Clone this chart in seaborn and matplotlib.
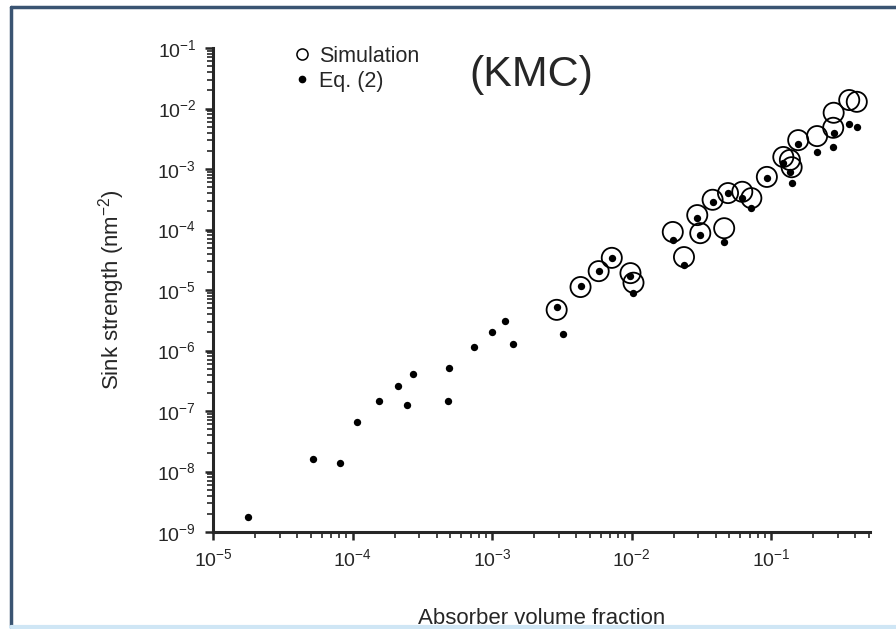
import matplotlib
matplotlib.use("Agg")
import matplotlib.pyplot as plt
import seaborn as sns
from matplotlib.lines import Line2D

# simulation (open circles)
sim_x = [2.9e-3, 4.3e-3, 5.8e-3, 7.2e-3, 9.8e-3, 1.03e-2, 1.97e-2, 2.37e-2, 2.95e-2,
         3.1e-2, 3.8e-2, 4.6e-2, 4.9e-2, 6.2e-2, 7.2e-2, 9.3e-2, 0.122, 0.136, 0.14,
         0.156, 0.213, 0.278, 0.28, 0.362, 0.41]
sim_y = [4.7e-6, 1.12e-5, 2.05e-5, 3.4e-5, 1.9e-5, 1.32e-5, 9.1e-5, 3.5e-5, 1.73e-4,
         8.7e-5, 3.1e-4, 1.05e-4, 4.0e-4, 4.2e-4, 3.3e-4, 7.4e-4, 1.58e-3, 1.41e-3, 1.07e-3,
         3.0e-3, 3.5e-3, 4.8e-3, 8.5e-3, 1.38e-2, 1.29e-2]

# Eq. (2) (filled dots)
eq_x = [1.78e-5, 5.2e-5, 8.1e-5, 1.07e-4, 1.55e-4, 2.1e-4, 2.45e-4, 2.7e-4, 4.8e-4,
        4.9e-4, 7.4e-4, 1.0e-3, 1.23e-3, 1.42e-3, 3.2e-3,
        2.9e-3, 4.3e-3, 5.8e-3, 7.2e-3, 9.8e-3, 1.03e-2, 1.97e-2, 2.37e-2, 2.95e-2,
        3.1e-2, 3.8e-2, 4.6e-2, 4.9e-2, 6.2e-2, 7.2e-2, 9.3e-2, 0.122, 0.136, 0.14,
        0.156, 0.213, 0.278, 0.28, 0.362, 0.41]
eq_y = [1.78e-9, 1.6e-8, 1.4e-8, 6.6e-8, 1.48e-7, 2.6e-7, 1.26e-7, 4.1e-7, 1.48e-7,
        5.1e-7, 1.15e-6, 2.0e-6, 3.1e-6, 1.3e-6, 1.85e-6,
        5.2e-6, 1.15e-5, 2.1e-5, 3.4e-5, 1.7e-5, 8.9e-6, 6.8e-5, 2.6e-5, 1.55e-4,
        8.1e-5, 2.8e-4, 6.2e-5, 4.0e-4, 3.3e-4, 2.3e-4, 7.0e-4, 1.26e-3, 8.9e-4, 5.9e-4,
        2.6e-3, 1.9e-3, 2.3e-3, 4.0e-3, 5.5e-3, 4.9e-3]

sns.set_style("ticks")
plt.rcParams["font.family"] = ["Liberation Sans", "DejaVu Sans"]
plt.rcParams["mathtext.fontset"] = "custom"
plt.rcParams["mathtext.rm"] = "Liberation Sans"
plt.rcParams["mathtext.it"] = "Liberation Sans:italic"

fig = plt.figure(figsize=(8.96, 6.29), dpi=100)
ax = fig.add_axes([213 / 896, 1 - 532 / 629, (870 - 213) / 896, (532 - 48) / 629])

sns.scatterplot(x=sim_x, y=sim_y, ax=ax, marker="o", s=210, facecolors="none",
                edgecolors="black", linewidth=1.3, zorder=3)
sns.scatterplot(x=eq_x, y=eq_y, ax=ax, marker="o", s=28, color="black",
                linewidth=0, zorder=4)

ax.set_xscale("log")
ax.set_yscale("log")
ax.set_xlim(1e-5, 0.51)
ax.set_ylim(1e-9, 1e-1)

sns.despine(ax=ax)
for side in ["left", "bottom"]:
    ax.spines[side].set_linewidth(2.2)
ax.tick_params(which="major", length=6, width=1.8, labelsize=14, pad=6)
ax.tick_params(which="minor", length=4, width=1.2)

ax.set_xlabel("Absorber volume fraction", fontsize=16, labelpad=27)
ax.set_ylabel("Sink strength (nm$^{-2}$)", fontsize=16, labelpad=22)

handles = [
    Line2D([], [], marker="o", ls="none", mfc="none", mec="black", ms=8, mew=1.1),
    Line2D([], [], marker="o", ls="none", color="black", ms=4.5),
]
ax.legend(handles, ["Simulation", "Eq. (2)"], loc="upper left", frameon=False,
          bbox_to_anchor=(0.09, 1.045), fontsize=15.5, handletextpad=0.3,
          labelspacing=0.2, handlelength=1.0)

ax.text(0.39, 0.985, "(KMC)", transform=ax.transAxes, fontsize=31,
        ha="left", va="top")

# frame around the picture
fig.add_artist(Line2D([11 / 896, 11 / 896], [2 / 629, 1 - 7 / 629], color="#3a5472",
                      lw=2.5, transform=fig.transFigure))
fig.add_artist(Line2D([11 / 896, 1.0], [1 - 7 / 629, 1 - 7 / 629], color="#3a5472",
                      lw=2.5, transform=fig.transFigure))
fig.add_artist(Line2D([11 / 896, 1.0], [2 / 629, 2 / 629], color="#cfe6f5",
                      lw=3, transform=fig.transFigure))

fig.savefig("out.png", dpi=100)
